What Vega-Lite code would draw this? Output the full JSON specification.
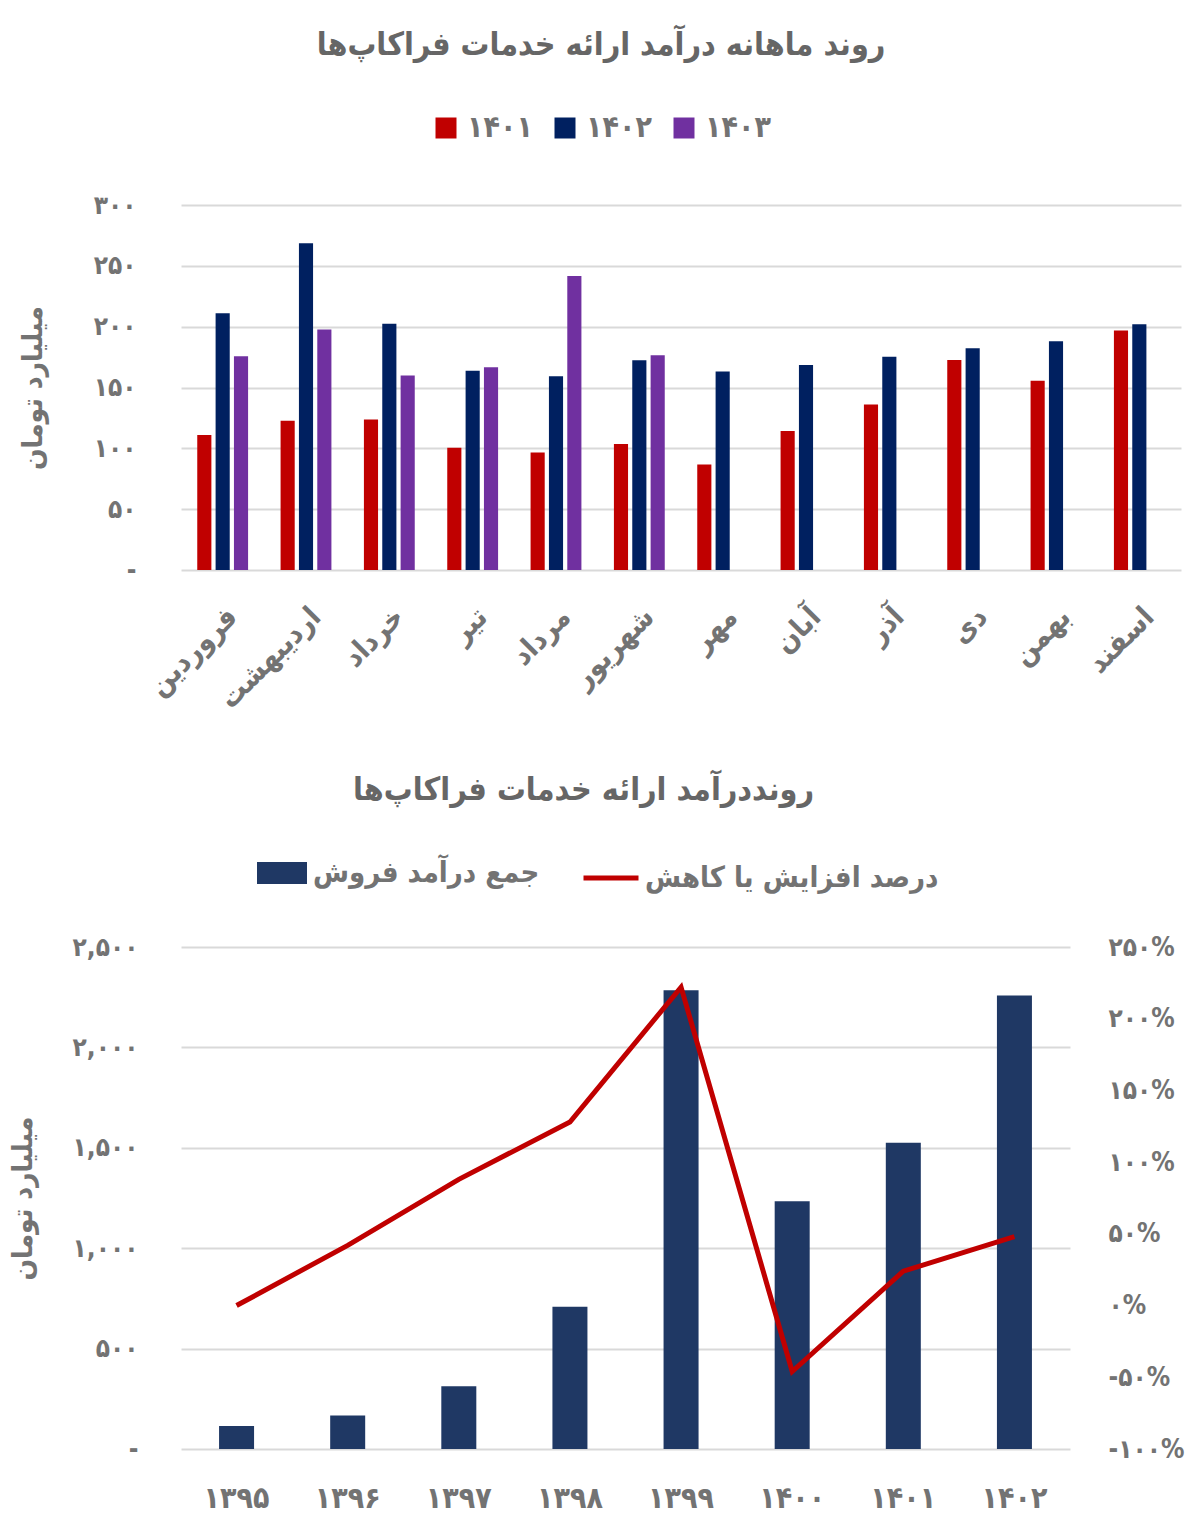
{
  "$schema": "https://vega.github.io/schema/vega-lite/v6.json",
  "background": "white",
  "padding": {"left": 9, "top": 29, "right": 5, "bottom": 5},
  "spacing": 60,
  "config": {
    "font": "DejaVu Sans Condensed",
    "view": {"stroke": null},
    "axis": {"labelFont": "DejaVu Sans Condensed", "titleFont": "DejaVu Sans Condensed", "labelColor": "#737373", "titleColor": "#737373", "labelFontWeight": "bold", "titleFontWeight": "bold", "gridColor": "#d9d9d9", "gridWidth": 2, "domain": false, "ticks": false},
    "legend": {"labelFont": "DejaVu Sans Condensed", "labelColor": "#737373", "labelFontWeight": "bold", "labelLimit": 500},
    "title": {"font": "DejaVu Sans Condensed", "color": "#666666", "fontWeight": "bold"}
  },
  "datasets": {
    "monthly": [
      {"month": "فروردین", "series": "۱۴۰۱", "value": 110.9},
      {"month": "فروردین", "series": "۱۴۰۲", "value": 211},
      {"month": "فروردین", "series": "۱۴۰۳", "value": 175.7},
      {"month": "اردیبهشت", "series": "۱۴۰۱", "value": 122.6},
      {"month": "اردیبهشت", "series": "۱۴۰۲", "value": 268.5},
      {"month": "اردیبهشت", "series": "۱۴۰۳", "value": 197.6},
      {"month": "خرداد", "series": "۱۴۰۱", "value": 123.7},
      {"month": "خرداد", "series": "۱۴۰۲", "value": 202.3},
      {"month": "خرداد", "series": "۱۴۰۳", "value": 159.9},
      {"month": "تیر", "series": "۱۴۰۱", "value": 100.5},
      {"month": "تیر", "series": "۱۴۰۲", "value": 163.7},
      {"month": "تیر", "series": "۱۴۰۳", "value": 166.7},
      {"month": "مرداد", "series": "۱۴۰۱", "value": 96.6},
      {"month": "مرداد", "series": "۱۴۰۲", "value": 159.3},
      {"month": "مرداد", "series": "۱۴۰۳", "value": 241.7},
      {"month": "شهریور", "series": "۱۴۰۱", "value": 103.5},
      {"month": "شهریور", "series": "۱۴۰۲", "value": 172.5},
      {"month": "شهریور", "series": "۱۴۰۳", "value": 176.6},
      {"month": "مهر", "series": "۱۴۰۱", "value": 86.8},
      {"month": "مهر", "series": "۱۴۰۲", "value": 163.2},
      {"month": "آبان", "series": "۱۴۰۱", "value": 114.2},
      {"month": "آبان", "series": "۱۴۰۲", "value": 168.4},
      {"month": "آذر", "series": "۱۴۰۱", "value": 136},
      {"month": "آذر", "series": "۱۴۰۲", "value": 175.2},
      {"month": "دی", "series": "۱۴۰۱", "value": 172.7},
      {"month": "دی", "series": "۱۴۰۲", "value": 182.3},
      {"month": "بهمن", "series": "۱۴۰۱", "value": 155.5},
      {"month": "بهمن", "series": "۱۴۰۲", "value": 188.1},
      {"month": "اسفند", "series": "۱۴۰۱", "value": 196.8},
      {"month": "اسفند", "series": "۱۴۰۲", "value": 202}
    ],
    "yearly": [
      {"year": "۱۳۹۵", "revenue": 115, "pct": 0},
      {"year": "۱۳۹۶", "revenue": 167, "pct": 42},
      {"year": "۱۳۹۷", "revenue": 312, "pct": 88},
      {"year": "۱۳۹۸", "revenue": 709, "pct": 128},
      {"year": "۱۳۹۹", "revenue": 2284, "pct": 222},
      {"year": "۱۴۰۰", "revenue": 1234, "pct": -46},
      {"year": "۱۴۰۱", "revenue": 1525, "pct": 24},
      {"year": "۱۴۰۲", "revenue": 2259, "pct": 48}
    ]
  },
  "vconcat": [
    {
      "width": 1000,
      "height": 365,
      "title": {"text": "روند ماهانه درآمد ارائه خدمات فراکاپ‌ها", "fontSize": 32, "anchor": "middle", "dx": -80, "offset": 130},
      "data": {"name": "monthly"},
      "mark": {"type": "bar"},
      "encoding": {
        "x": {
          "field": "month", "type": "nominal",
          "sort": ["فروردین", "اردیبهشت", "خرداد", "تیر", "مرداد", "شهریور", "مهر", "آبان", "آذر", "دی", "بهمن", "اسفند"],
          "scale": {"paddingInner": 0.39, "paddingOuter": 0.195},
          "axis": {"title": null, "labelAngle": -45, "labelFontSize": 29, "labelPadding": 32, "grid": false}
        },
        "xOffset": {
          "field": "series", "type": "nominal",
          "scale": {"domain": ["۱۴۰۱", "۱۴۰۲", "۱۴۰۳"], "paddingInner": 0.23, "paddingOuter": 0}
        },
        "y": {
          "field": "value", "type": "quantitative",
          "scale": {"domain": [0, 300]},
          "axis": {
            "values": [0, 50, 100, 150, 200, 250, 300],
            "title": "میلیارد تومان", "titleFontSize": 28, "titlePadding": 46,
            "labelFontSize": 26, "labelPadding": 45,
            "labelExpr": "datum.value == 0 ? '-' : replace(replace(replace(replace(replace(replace(replace(replace(replace(replace(toString(datum.value),regexp('0','g'),'۰'),regexp('1','g'),'۱'),regexp('2','g'),'۲'),regexp('3','g'),'۳'),regexp('4','g'),'۴'),regexp('5','g'),'۵'),regexp('6','g'),'۶'),regexp('7','g'),'۷'),regexp('8','g'),'۸'),regexp('9','g'),'۹')"
          }
        },
        "color": {
          "field": "series", "type": "nominal",
          "scale": {"domain": ["۱۴۰۱", "۱۴۰۲", "۱۴۰۳"], "range": ["#C00000", "#002060", "#7030A0"]},
          "legend": {"orient": "none", "direction": "horizontal", "legendX": 250, "legendY": -92, "title": null, "symbolType": "square", "symbolSize": 441, "symbolStrokeWidth": 0, "symbolOpacity": 1, "labelFontSize": 30, "labelOffset": 6, "columnPadding": 17}
        }
      }
    },
    {
      "width": 889,
      "height": 502,
      "title": {"text": "رونددرآمد ارائه خدمات فراکاپ‌ها", "fontSize": 32, "anchor": "middle", "dx": -42, "offset": 41},
      "data": {"name": "yearly"},
      "encoding": {
        "x": {
          "field": "year", "type": "nominal", "sort": null,
          "scale": {"paddingInner": 0, "paddingOuter": 0},
          "axis": {"title": null, "labelAngle": 0, "labelFontSize": 30, "labelPadding": 34, "grid": false}
        }
      },
      "layer": [
        {
          "mark": {"type": "bar", "width": {"band": 0.315}},
          "encoding": {
            "y": {
              "field": "revenue", "type": "quantitative",
              "scale": {"domain": [0, 2500]},
              "axis": {
                "values": [0, 500, 1000, 1500, 2000, 2500],
                "title": "میلیارد تومان", "titleFontSize": 28, "titlePadding": 34,
                "labelFontSize": 26, "labelPadding": 43,
                "labelExpr": "datum.value == 0 ? '-' : replace(replace(replace(replace(replace(replace(replace(replace(replace(replace(format(datum.value, ',d'),regexp('0','g'),'۰'),regexp('1','g'),'۱'),regexp('2','g'),'۲'),regexp('3','g'),'۳'),regexp('4','g'),'۴'),regexp('5','g'),'۵'),regexp('6','g'),'۶'),regexp('7','g'),'۷'),regexp('8','g'),'۸'),regexp('9','g'),'۹')"
              }
            },
            "fill": {
              "datum": "جمع درآمد فروش",
              "scale": {"domain": ["جمع درآمد فروش"], "range": ["#1F3864"]},
              "legend": {"orient": "none", "legendX": 76, "legendY": -99, "title": null, "symbolType": "M-1,-0.44H1V0.44H-1Z", "symbolSize": 2500, "symbolStrokeWidth": 0, "labelFontSize": 29, "labelOffset": 6}
            }
          }
        },
        {
          "mark": {"type": "line", "strokeWidth": 5, "color": "#C00000"},
          "encoding": {
            "y": {
              "field": "pct", "type": "quantitative",
              "scale": {"domain": [-100, 250]},
              "axis": {
                "orient": "right", "grid": false,
                "values": [-100, -50, 0, 50, 100, 150, 200, 250],
                "title": null, "labelFontSize": 26, "labelPadding": 38,
                "labelExpr": "replace(replace(replace(replace(replace(replace(replace(replace(replace(replace(toString(datum.value),regexp('0','g'),'۰'),regexp('1','g'),'۱'),regexp('2','g'),'۲'),regexp('3','g'),'۳'),regexp('4','g'),'۴'),regexp('5','g'),'۵'),regexp('6','g'),'۶'),regexp('7','g'),'۷'),regexp('8','g'),'۸'),regexp('9','g'),'۹') + '%'"
              }
            },
            "stroke": {
              "datum": "درصد افزایش یا کاهش",
              "scale": {"domain": ["درصد افزایش یا کاهش"], "range": ["#C00000"]},
              "legend": {"orient": "none", "legendX": 400, "legendY": -99, "title": null, "symbolType": "stroke", "symbolSize": 3025, "symbolStrokeWidth": 5, "labelFontSize": 29, "labelOffset": 4}
            }
          }
        }
      ],
      "resolve": {"scale": {"y": "independent", "fill": "independent", "stroke": "independent"}}
    }
  ]
}
